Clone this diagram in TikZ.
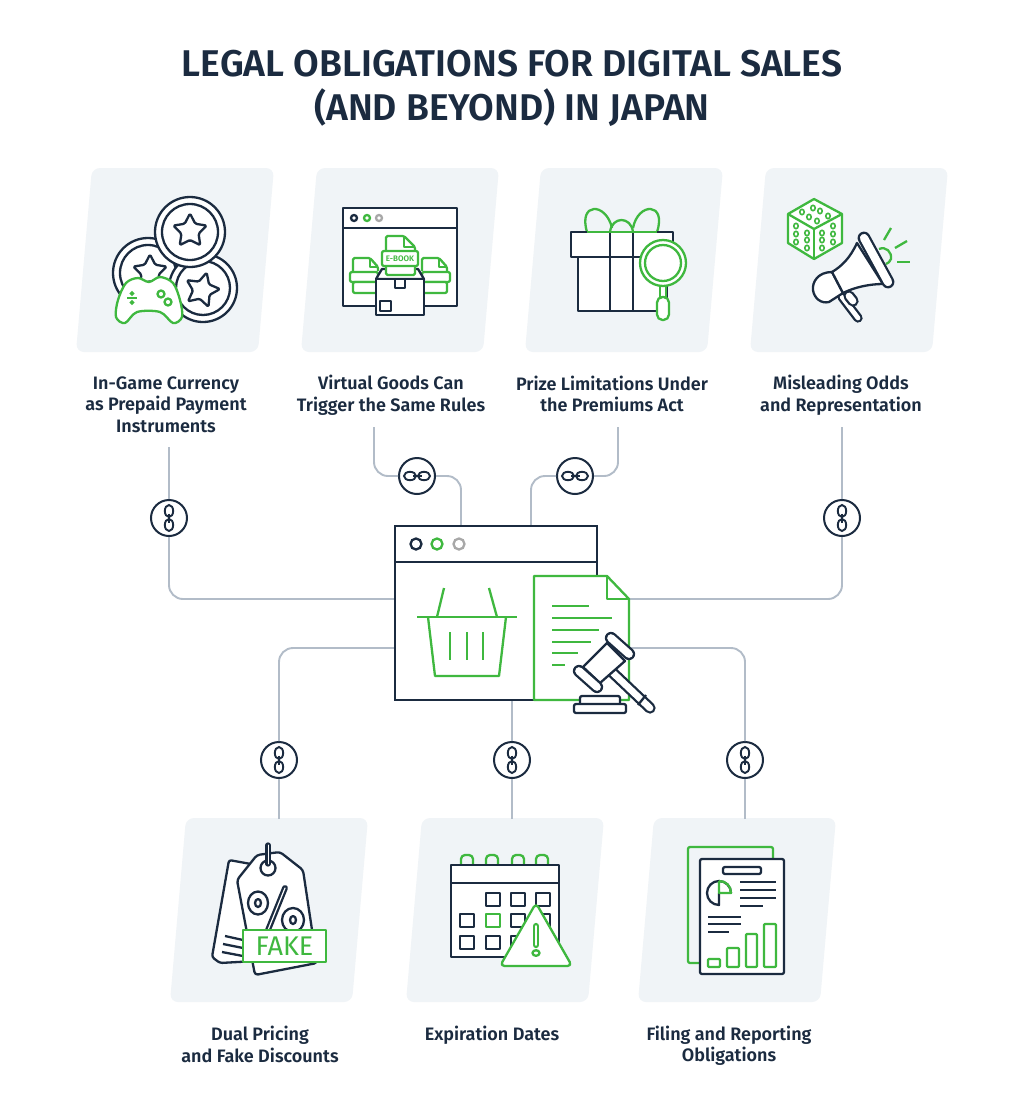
\documentclass[tikz,border=0pt]{standalone}
\usepackage{fontspec}
\setmainfont{Fira Sans}[BoldFont={Fira Sans SemiBold}]
\definecolor{ink}{HTML}{1B2B40}
\definecolor{grn}{HTML}{3FB83F}
\definecolor{cardc}{HTML}{F0F4F7}
\definecolor{wire}{HTML}{B2BCC8}
\definecolor{dotg}{HTML}{A8A8A8}
\tikzset{
  cardbox/.style={fill=cardc,draw=none,rounded corners=8},
  dk/.style={draw=ink,line width=2.3,line join=round},
  gr/.style={draw=grn,line width=2.3,line join=round},
  wf/.style={fill=white},
  wireline/.style={draw=wire,line width=1.9,rounded corners=14},
  linkc/.style={circle,draw=ink,line width=2,fill=white,minimum size=36,inner sep=0},
  lab/.style={align=center,text=ink,font=\fontsize{18}{21.5}\selectfont\bfseries,inner sep=0},
  ttl/.style={align=center,text=ink,font=\fontsize{37.2}{44}\selectfont\bfseries,inner sep=0}
}
\newcommand{\cardat}[2]{\fill[cardbox] (#1+16,#2) -- (#1+198-16+16,#2) -- (#1+182,#2+184) -- (#1,#2+184) -- cycle;}
\newcommand{\stad}[4]{\draw[#4,line width={#3+1.3},line cap=round] #1 -- #2; \draw[white,line width={#3-3.3},line cap=round] #1 -- #2;}
\newcommand{\starat}[5]{\begin{scope}[shift={(#1,#2)}]
  \draw[dk,rounded corners=1.4] (#5+0:#3) -- (#5+36:#4) -- (#5+72:#3) -- (#5+108:#4) -- (#5+144:#3) -- (#5+180:#4) -- (#5+216:#3) -- (#5+252:#4) -- (#5+288:#3) -- (#5+324:#4) -- cycle;
\end{scope}}
\newcommand{\coin}[3]{\draw[dk,wf] (#1,#2) circle (#3); \draw[dk] (#1,#2) circle (#3-7);}
\newcommand{\vchain}[1]{\draw[ink,line width=1.9] ([yshift=7]#1.center) ellipse (4.2pt and 6pt); \draw[ink,line width=1.9] ([yshift=-7]#1.center) ellipse (4.2pt and 6pt); \draw[ink,line width=1.9] ([yshift=4.5]#1.center) -- ([yshift=-4.5]#1.center);}
\newcommand{\hchain}[1]{\draw[ink,line width=1.9] ([xshift=7]#1.center) ellipse (6pt and 4.2pt); \draw[ink,line width=1.9] ([xshift=-7]#1.center) ellipse (6pt and 4.2pt); \draw[ink,line width=1.9] ([xshift=4.5]#1.center) -- ([xshift=-4.5]#1.center);}
\newcommand{\pip}[2]{\draw[grn,line width=1.6] (#1,#2) ellipse (2.2pt and 2.7pt);}
\newcommand{\sq}[3]{\draw[#3] (#1,#2) rectangle ++(14,13);}
\begin{document}
\begin{tikzpicture}[x=1pt,y=-1pt]
\useasboundingbox[fill=white] (0,0) rectangle (1024,1112);
% cards
\cardat{76}{168}\cardat{301}{168}\cardat{525}{168}\cardat{750}{168}
\cardat{170}{818}\cardat{406}{818}\cardat{638}{818}
% text
\node[ttl] (title) at (512,88) {LEGAL OBLIGATIONS FOR DIGITAL SALES\\(AND BEYOND) IN JAPAN};
\node[lab] (lab1) at (166,404.5) {In-Game Currency\\as Prepaid Payment\\Instruments};
\node[lab] (lab2) at (391,395) {Virtual Goods Can\\Trigger the Same Rules};
\node[lab] (lab3) at (612,394) {Prize Limitations Under\\the Premiums Act};
\node[lab] (lab4) at (841,395) {Misleading Odds\\and Representation};
\node[lab] (lab5) at (260,1044.5) {Dual Pricing\\and Fake Discounts};
\node[lab] (lab6) at (492,1035) {Expiration Dates};
\node[lab] (lab7) at (729,1045.5) {Filing and Reporting\\Obligations};
% connector ends
\coordinate (s1) at (169,447); \coordinate (s2) at (374,427); \coordinate (s3) at (618,427); \coordinate (s4) at (842,427);
\coordinate (s5) at (279,819); \coordinate (s6) at (512,819); \coordinate (s7) at (745,819);
\coordinate (h1) at (395,599); \coordinate (h2) at (461,527); \coordinate (h3) at (531,527); \coordinate (h4) at (630,599);
\coordinate (h5) at (395,648); \coordinate (h6) at (512,700); \coordinate (h7) at (630,648);
% link nodes
\node[linkc] (k1) at (169,518) {};
\node[linkc] (k2) at (417,476) {};
\node[linkc] (k3) at (575,476) {};
\node[linkc] (k4) at (842,518) {};
\node[linkc] (k5) at (279,760) {};
\node[linkc] (k6) at (512,760) {};
\node[linkc] (k7) at (745,760) {};
\vchain{k1}\hchain{k2}\hchain{k3}\vchain{k4}\vchain{k5}\vchain{k6}\vchain{k7}
% connectors
\draw[wireline] (s1) -- (k1.north); \draw[wireline] (k1.south) |- (h1);
\draw[wireline] (s2) |- (k2.west); \draw[wireline] (k2.east) -| (h2);
\draw[wireline] (s3) |- (k3.east); \draw[wireline] (k3.west) -| (h3);
\draw[wireline] (s4) -- (k4.north); \draw[wireline] (k4.south) |- (h4);
\draw[wireline] (s5) -- (k5.south); \draw[wireline] (k5.north) |- (h5);
\draw[wireline] (s6) -- (k6.south); \draw[wireline] (k6.north) -- (h6);
\draw[wireline] (s7) -- (k7.south); \draw[wireline] (k7.north) |- (h7);
% ---- hub
\node[draw=ink,line width=2.4,fill=white,minimum width=202,minimum height=174,inner sep=0] (hub) at (496,613) {};
\draw[dk] (395,562) -- (597,562);
\draw[ink,line width=2.3] (416,544) circle (5.5); \draw[grn,line width=2.3] (437,544) circle (5.5); \draw[dotg,line width=2.3] (459,544) circle (5.5);
\draw[gr] (417,617) -- (517,617);
\draw[gr] (428,617) -- (435,676) -- (499,676) -- (506,617);
\draw[gr] (437,617) -- (444,588); \draw[gr] (497,617) -- (489,588);
\draw[gr] (450,632) -- (450,660); \draw[gr] (467,632) -- (467,660); \draw[gr] (483,632) -- (483,660);
\draw[gr,wf] (534,576) -- (607,576) -- (629,599) -- (629,700) -- (534,700) -- cycle;
\draw[gr] (607,576) -- (607,599) -- (629,599);
\draw[gr] (552,606) -- (589,606); \draw[gr] (552,618) -- (612,618); \draw[gr] (552,630) -- (599,630);
\draw[gr] (552,642) -- (591,642); \draw[gr] (552,653) -- (578,653); \draw[gr] (552,665) -- (565,665);
% gavel
\stad{(612,672)}{(650,708)}{10}{ink}
\draw[dk] (646,695) -- (638,705);
\draw[dk,wf] (607,643) -- (625,661) -- (600,683) -- (583,667) -- cycle;
\stad{(611,638)}{(629,654)}{11}{ink}
\stad{(579,671)}{(597,687)}{11}{ink}
\draw[dk,wf,rounded corners=2] (580,704) -- (580,696) -- (620,696) -- (620,704);
\draw[dk,wf,rounded corners=2] (574,704) rectangle (626,713);
% ---- icon 1 coins
\coin{148}{273}{35}\coin{203}{288}{34}\coin{190}{232}{35}
\starat{190}{231}{17.5}{9}{-90}
\starat{150}{272}{17.5}{9}{-90}
\starat{202}{290}{18}{9}{-75}
\draw[gr,wf] plot[smooth cycle,tension=.55] coordinates {(138,278) (149,282) (160,277) (173,283) (180,300) (182,317) (173,323) (160,312) (137,312) (125,323) (116,317) (118,300) (126,283)};
\draw[grn,line width=2.6] (127,298) -- (137,298);
\draw[grn,line width=1.8] (132,293.5) circle (1.3); \draw[grn,line width=1.8] (132,302.5) circle (1.3);
\draw[gr] (161,294) circle (3.5); \draw[gr] (168,302) circle (3.5);
% ---- icon 2 browser
\draw[dk,wf] (343,208) rectangle (457,306);
\draw[dk] (343,228) -- (457,228);
\draw[ink,line width=2.3] (354,218) circle (3); \draw[grn,line width=2.3] (367,218) circle (3); \draw[dotg,line width=2.3] (379,218) circle (3);
\begin{scope}
 \draw[gr,wf,rounded corners=1.5] (353,271) -- (353,258) -- (370,258) -- (378,267) -- (378,271);
 \draw[gr,wf,rounded corners=1.5] (422,271) -- (422,258) -- (439,258) -- (447,267) -- (447,271);
 \draw[gr] (370,258) -- (370,267) -- (378,267);  \draw[gr] (439,258) -- (439,267) -- (447,267);
 \draw[gr,wf,rounded corners=2] (350,272) rectangle (378,282);
 \draw[gr,wf,rounded corners=2] (422,272) rectangle (450,282);
 \draw[gr,wf,rounded corners=2] (353,282) rectangle (378,293);
 \draw[gr,wf,rounded corners=2] (422,282) rectangle (447,293);
\end{scope}
\draw[dk,wf] (382,269) -- (418,269) -- (424,279) -- (376,279) -- cycle;
\draw[gr,wf,rounded corners=1.5] (386,275) -- (386,236) -- (404,236) -- (415,247) -- (415,275) -- cycle;
\draw[gr] (404,236) -- (404,247) -- (415,247);
\draw[gr,wf,rounded corners=2] (382,251) rectangle (418,266);
\node[text=grn,font=\fontsize{8}{8}\selectfont\bfseries,inner sep=0] (ebook) at (400,258.5) {E-BOOK};
\draw[dk,wf] (376,279) rectangle (424,315);
\draw[dk] (395,279) -- (395,288) -- (405,288) -- (405,279);
\draw[dk] (380,301) rectangle (391,311);
% ---- icon 3 gift
\draw[gr] (587,232) .. controls (578,202) and (606,202) .. (612,228);
\draw[gr] (633,228) .. controls (638,202) and (667,202) .. (657,232);
\draw[gr] (610,232) .. controls (612,216) and (631,216) .. (633,232);
\draw[dk,wf] (578,257) rectangle (667,311);
\draw[dk,wf] (571,232) rectangle (673,257);
\draw[dk] (610,232) -- (610,311); \draw[dk] (633,232) -- (633,311);
\draw[gr] (587,232) -- (657,232);
\draw[gr] (660,286) rectangle (666,297);
\draw[gr,wf,rounded corners=5.5] (657,297) rectangle (669,320);
\draw[gr,wf] (663,263) circle (23); \draw[gr] (663,263) circle (18);
% ---- icon 4 dice
\draw[gr,wf] (814,199) -- (842,214) -- (842,243) -- (814,259) -- (788,243) -- (788,214) -- cycle;
\draw[gr] (788,214) -- (814,229) -- (842,214); \draw[gr] (814,229) -- (814,259);
\foreach \a/\b in {796/226,796/234,796/242,807/233,807/240,807/248,822/233,822/240,822/248,833/226,833/234,833/242,802/212,809/217,817/221,813/208,820/211,828/216}{\pip{\a}{\b}}
\draw[gr] (879,249) .. controls (886,246) and (892,252) .. (891,259) .. controls (890,262) and (888,263) .. (886,264);
\draw[gr] (884,240) -- (891,228); \draw[gr] (895,248) -- (907,241); \draw[gr] (897,262) -- (910,262);
\stad{(842,297)}{(858,318)}{8}{ink}
\stad{(849,296)}{(853,301)}{10}{ink}
\draw[dk,wf] (832,272) .. controls (818,272) and (812,282) .. (813,290) .. controls (814,298) and (821,304) .. (829,302) -- (843,293) -- cycle;
\draw[dk,wf] (857,243) .. controls (850,258) and (842,266) .. (832,272) -- (843,293) .. controls (855,287) and (870,284) .. (883,284) -- cycle;
\stad{(864,238)}{(888,282)}{11.5}{ink}
% ---- icon 5 tags
\draw[dk,wf,rounded corners=2.5] (229,860) -- (262,866) -- (274,960) -- (220,963) -- (212,957) -- cycle;
\draw[dk,wf,rounded corners=3] (237,880) -- (257,855) -- (280,852) -- (303,870) -- (317,963) -- (255,975) -- cycle;
\draw[dk,wf] (268,868) circle (7.5); 
\stad{(268,845)}{(268,864)}{4}{ink}
\draw[dk] (258,903) ellipse (10pt and 11.5pt); \draw[dk] (258,903) ellipse (3pt and 4pt);
\draw[dk,wf] (293,920) ellipse (11pt and 12pt); \draw[dk] (293,920) ellipse (3pt and 4pt);
\stad{(285,888)}{(268,930)}{4.5}{ink}
\draw[dk] (225,936) -- (243,940); \draw[dk] (223,944) -- (243,948); \draw[dk] (222,952) -- (243,956);
\draw[gr,wf] (243,930) rectangle (326,962);
\node[text=grn,font=\fontsize{27}{27}\selectfont,inner sep=0] (fake) at (284.5,946) {FAKE};
% ---- icon 6 calendar
\foreach \a in {461,486,512,536}{\draw[gr,rounded corners=4] (\a,865) -- (\a,855) -- (\a+12,855) -- (\a+12,865);}
\draw[dk,wf] (451,865) rectangle (559,957);
\draw[dk] (451,883) -- (559,883);
\sq{486}{893}{dk}\sq{511}{893}{dk}\sq{536}{893}{dk}
\sq{460}{914}{dk}\sq{486}{914}{gr}\sq{511}{914}{dk}\sq{536}{914}{dk}
\sq{460}{936}{dk}\sq{486}{936}{dk}\sq{511}{936}{dk}
\draw[gr,wf,rounded corners=4.5] (536,903) -- (572,966) -- (500,966) -- cycle;
\stad{(536,926)}{(536,945)}{5}{grn}
\draw[gr] (536,953) ellipse (3.5pt and 2.8pt);
% ---- icon 7 report
\draw[gr,rounded corners=2] (700,963) -- (688,963) -- (688,847) -- (773,847) -- (773,859);
\draw[dk,wf,rounded corners=2] (700,859) rectangle (784,974);
\draw[dk,rounded corners=2] (723,867) rectangle (761,874);
\draw[dk] (731,893) arc[start angle=0,end angle=-270,radius=12] -- (719,893);
\draw[gr] (719,881) -- (719,893) -- (731,893) .. controls (731,886) and (726,881) .. (719,881);
\foreach \y in {882,890,898}{\draw[dk] (740,\y) -- (776,\y);}
\draw[dk] (740,906) -- (763,906);
\draw[dk] (708,917) -- (741,917); \draw[dk] (708,924) -- (741,924); \draw[dk] (708,932) -- (729,932);
\draw[gr,rounded corners=1] (708,959) rectangle (720,967);
\draw[gr,rounded corners=1] (727,948) rectangle (739,967);
\draw[gr,rounded corners=1] (746,934) rectangle (757,967);
\draw[gr,rounded corners=1] (764,924) rectangle (776,967);
\end{tikzpicture}
\end{document}
